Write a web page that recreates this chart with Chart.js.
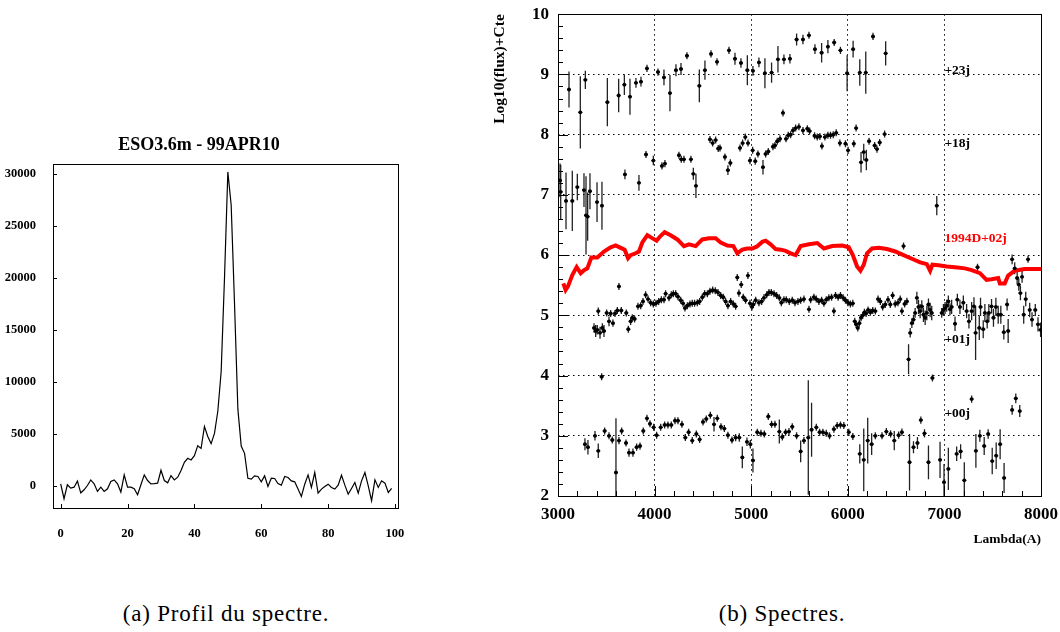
<!DOCTYPE html>
<html>
<head>
<meta charset="utf-8">
<script src="https://cdn.jsdelivr.net/npm/chart.js@4.4.0/dist/chart.umd.min.js"></script>
<style>
body{margin:0;background:#fff;width:1060px;height:632px;position:relative;overflow:hidden}
#wrapA{position:absolute;left:0;top:120px;width:420px;height:430px}
#wrapB{position:absolute;left:480px;top:-5px;width:586px;height:575px}
.cap{position:absolute;top:601px;font-family:"Liberation Serif","Times New Roman",serif;font-size:23px;letter-spacing:0.8px;line-height:26px;transform:translateX(-50%);white-space:nowrap;color:#000}
</style>
</head>
<body>
<div id="wrapA"><canvas id="profil" width="420" height="430"></canvas></div>
<div id="wrapB"><canvas id="spectres" width="586" height="575"></canvas></div>
<div class="cap" style="left:226px">(a) Profil du spectre.</div>
<div class="cap" style="left:782px">(b) Spectres.</div>
<script>
/* DATA - profile (a) */
const profTitle = "ESO3.6m - 99APR10";
const profCounts = [220,-1210,130,-190,-100,480,-640,-350,60,600,
  220,-510,-100,-510,-250,450,600,220,-570,1080,
  -100,-100,-250,-830,130,1080,540,220,250,290,
  1530,540,320,1020,600,860,1500,2290,2680,2520,
  2930,3890,3630,5730,4780,4080,5070,7200,11000,20000,
  30200,27000,17500,7400,3850,3150,750,670,990,925,
  415,990,-30,765,735,255,96,925,830,510,
  415,-285,-990,190,1080,-125,1310,-670,-285,-30,
  190,-125,-285,95,1050,95,-765,-220,350,-670,
  510,1310,30,-1400,605,-125,510,290,-605,-220];
const profPixel = profCounts.map((v,i)=>i);
const profXTicks = [0,20,40,60,80,100];
const profYTicks = [0,5000,10000,15000,20000,25000,30000];

/* DATA - spectra (b) */
const wl23 = [3114,3231,3283,3511,3628,3687,3745,3807,3859,3921,4035,4097,4159,4221,4273,4335,4463,4521,4584,4646,4770,4832,4894,4960,5018,5080,5142,5211,5277,5339,5401,5470,5536,5598,5660,5729,5794,5859,5924,5993,6055,6124,6186,6261,6392];
const f23 = [8.75,8.37,8.91,8.54,8.65,8.83,8.63,8.86,8.88,9.10,9.04,8.95,8.69,9.07,9.09,9.31,8.81,9.07,9.34,9.21,9.40,9.26,9.19,9.07,9.06,9.20,9.02,9.03,9.25,9.25,9.26,9.58,9.58,9.65,9.42,9.36,9.46,9.53,9.40,9.02,9.42,9.03,9.03,9.63,9.35];
const e23 = [0.30,0.60,0.15,0.40,0.28,0.17,0.30,0.08,0.08,0.06,0.06,0.13,0.30,0.10,0.10,0.06,0.27,0.16,0.06,0.06,0.06,0.10,0.08,0.25,0.08,0.08,0.25,0.17,0.22,0.08,0.08,0.10,0.08,0.05,0.08,0.16,0.11,0.06,0.06,0.30,0.14,0.22,0.35,0.06,0.20];

const wl18 = [3021,3028,3083,3148,3200,3269,3290,3307,3331,3404,3455,3693,3838,3911,3987,4076,4107,4252,4276,4304,4376,4401,4428,4573,4601,4632,4659,4677,4728,4759,4784,4884,4911,4939,4967,4987,5015,5042,5070,5122,5149,5177,5225,5246,5270,5298,5329,5360,5384,5408,5432,5460,5494,5536,5581,5605,5656,5684,5711,5732,5763,5794,5821,5849,5880,5918,5976,6003,6062,6086,6137,6165,6192,6220,6278,6302,6330,6381,6921];
const f18 = [7.24,7.05,6.90,6.90,7.13,7.08,6.66,6.64,7.06,6.88,6.82,7.34,7.20,7.67,7.57,7.48,7.52,7.66,7.59,7.59,7.59,7.35,7.15,7.92,7.86,7.91,7.77,7.78,7.63,7.41,7.53,7.78,7.86,7.96,7.86,7.57,7.74,7.56,7.68,7.46,7.68,7.72,7.80,7.82,7.89,7.93,8.36,7.93,7.99,8.00,8.07,8.11,8.13,8.07,8.10,8.06,7.98,7.96,7.97,7.81,7.96,7.99,7.99,8.00,8.03,7.86,7.85,7.74,7.85,8.11,7.54,7.71,7.58,7.89,7.82,7.76,7.87,8.01,6.82];
const e18 = [0.28,0.45,0.47,0.50,0.22,0.28,0.65,0.40,0.30,0.33,0.40,0.08,0.13,0.05,0.08,0.06,0.06,0.05,0.05,0.05,0.05,0.10,0.20,0.04,0.04,0.04,0.05,0.05,0.05,0.08,0.06,0.05,0.05,0.05,0.05,0.06,0.05,0.06,0.05,0.12,0.05,0.05,0.05,0.05,0.05,0.05,0.03,0.04,0.04,0.04,0.04,0.04,0.04,0.04,0.04,0.04,0.04,0.04,0.04,0.05,0.04,0.04,0.04,0.04,0.04,0.05,0.05,0.06,0.05,0.03,0.17,0.14,0.17,0.05,0.06,0.06,0.05,0.05,0.16];

const wlRef = [3055,3079,3103,3148,3193,3235,3269,3304,3345,3407,3476,3545,3597,3649,3690,3725,3752,3804,3838,3873,3925,3966,4021,4063,4104,4166,4235,4304,4356,4425,4494,4563,4632,4684,4753,4815,4856,4908,4960,5011,5056,5115,5149,5201,5253,5305,5356,5408,5460,5512,5598,5684,5753,5839,5942,6010,6052,6096,6131,6165,6199,6251,6320,6405,6491,6577,6663,6749,6818,6852,6876,6938,7024,7110,7213,7282,7368,7436,7488,7557,7574,7625,7660,7728,7831,8000];
const fRef = [5.53,5.42,5.48,5.67,5.80,5.70,5.75,5.78,5.96,5.96,6.06,6.13,6.16,6.12,6.09,5.95,6.00,6.03,6.06,6.21,6.33,6.29,6.24,6.32,6.38,6.33,6.26,6.15,6.18,6.15,6.26,6.28,6.28,6.21,6.16,6.15,6.03,6.09,6.11,6.11,6.14,6.22,6.24,6.18,6.10,6.09,6.07,6.03,6.00,6.15,6.18,6.20,6.11,6.15,6.16,6.13,6.00,5.81,5.74,5.84,6.03,6.11,6.12,6.10,6.06,6.00,5.94,5.88,5.85,5.74,5.84,5.83,5.81,5.80,5.78,5.75,5.70,5.59,5.60,5.62,5.53,5.53,5.66,5.74,5.77,5.77];

const wl01 = [3373,3390,3407,3417,3435,3452,3459,3476,3504,3528,3545,3569,3590,3614,3631,3655,3707,3728,3752,3769,3793,3828,3856,3880,3907,3932,3959,3987,4014,4042,4070,4097,4114,4149,4173,4194,4218,4242,4270,4294,4314,4339,4366,4390,4414,4442,4466,4494,4518,4546,4573,4601,4628,4656,4684,4711,4735,4759,4787,4815,4839,4856,4873,4897,4918,4942,4966,4987,5008,5022,5046,5080,5108,5132,5160,5184,5208,5236,5263,5291,5312,5339,5363,5394,5425,5453,5484,5512,5546,5598,5615,5649,5674,5701,5729,5753,5777,5804,5832,5856,5873,5900,5924,5952,5976,6003,6027,6052,6072,6086,6103,6120,6137,6155,6172,6189,6210,6234,6258,6285,6313,6337,6361,6388,6416,6440,6464,6491,6519,6543,6560,6577,6588,6612,6629,6646,6663,6680,6697,6715,6732,6749,6766,6783,6801,6818,6835,6852,6869,6876,6972,6990,7007,7024,7041,7058,7075,7110,7134,7161,7196,7230,7254,7282,7306,7323,7343,7361,7374,7402,7419,7443,7460,7488,7508,7533,7557,7584,7615,7649,7660,7701,7728,7753,7770,7787,7804,7821,7842,7866,7883,7907,7941,7969,7996];
const f01 = [4.79,4.74,4.76,5.07,4.71,3.98,4.79,4.74,5.04,4.90,5.03,4.87,5.03,5.08,5.48,5.08,5.04,4.77,4.90,4.96,4.94,5.15,5.16,5.23,5.34,5.27,5.21,5.19,5.20,5.23,5.26,5.26,5.36,5.29,5.34,5.36,5.36,5.31,5.25,5.20,5.12,5.16,5.19,5.20,5.20,5.21,5.23,5.30,5.36,5.36,5.40,5.42,5.41,5.38,5.33,5.30,5.23,5.16,5.23,5.19,5.15,5.63,5.37,5.51,5.30,5.25,5.66,5.20,5.14,5.18,5.25,5.21,5.23,5.29,5.34,5.38,5.38,5.36,5.33,5.29,5.21,5.26,5.26,5.23,5.25,5.21,5.23,5.25,5.27,5.10,5.26,5.30,5.27,5.23,5.25,5.20,5.26,5.29,5.30,5.07,5.33,5.30,5.33,5.29,5.25,5.21,5.19,5.20,4.90,4.85,4.79,4.87,4.96,5.00,5.05,5.03,5.09,5.05,5.08,5.07,5.27,5.23,5.14,5.18,5.26,5.18,5.33,5.19,5.21,5.27,5.07,6.15,5.19,5.23,4.27,4.71,4.87,4.93,5.04,5.29,5.14,5.07,5.15,5.01,4.96,5.04,5.18,5.09,5.04,3.96,5.04,5.09,5.12,5.16,5.23,5.10,5.14,4.86,5.26,5.14,5.21,5.07,4.90,5.07,5.15,4.71,5.80,4.79,5.14,4.77,5.04,4.90,5.04,5.15,4.96,5.14,5.01,5.01,4.72,5.18,4.74,5.93,5.78,5.62,5.51,5.37,5.64,5.01,5.27,5.93,5.09,4.93,5.09,4.85,4.76];
const e01 = [0.08,0.10,0.08,0.06,0.10,0.06,0.08,0.10,0.05,0.08,0.05,0.06,0.05,0.04,0.03,0.04,0.04,0.05,0.06,0.05,0.05,0.04,0.04,0.04,0.04,0.04,0.04,0.04,0.04,0.04,0.04,0.04,0.04,0.04,0.04,0.04,0.04,0.04,0.04,0.04,0.04,0.04,0.04,0.04,0.04,0.04,0.04,0.04,0.04,0.04,0.04,0.04,0.04,0.04,0.04,0.04,0.04,0.04,0.04,0.04,0.04,0.04,0.06,0.05,0.04,0.04,0.04,0.04,0.04,0.04,0.04,0.04,0.04,0.04,0.04,0.04,0.04,0.04,0.04,0.04,0.04,0.04,0.04,0.04,0.04,0.04,0.04,0.04,0.04,0.04,0.04,0.04,0.04,0.04,0.04,0.04,0.04,0.04,0.04,0.04,0.04,0.04,0.04,0.04,0.04,0.04,0.04,0.04,0.05,0.06,0.06,0.06,0.06,0.05,0.05,0.05,0.05,0.05,0.05,0.05,0.06,0.06,0.06,0.06,0.06,0.06,0.06,0.06,0.06,0.06,0.06,0.03,0.06,0.06,0.25,0.08,0.08,0.08,0.08,0.10,0.12,0.12,0.10,0.12,0.12,0.12,0.10,0.12,0.12,0.05,0.08,0.10,0.10,0.10,0.10,0.10,0.12,0.12,0.10,0.12,0.12,0.12,0.12,0.15,0.15,0.45,0.04,0.20,0.15,0.15,0.15,0.12,0.15,0.12,0.15,0.15,0.15,0.15,0.12,0.10,0.20,0.08,0.10,0.10,0.10,0.12,0.10,0.15,0.12,0.03,0.12,0.12,0.10,0.12,0.12];

const wl00 = [3279,3310,3383,3417,3483,3528,3562,3600,3631,3659,3704,3735,3776,3814,3849,3883,3921,3952,3990,4021,4063,4104,4138,4173,4211,4242,4283,4318,4352,4390,4432,4466,4501,4535,4577,4615,4649,4687,4722,4759,4801,4839,4877,4908,4956,4991,5018,5063,5101,5136,5177,5211,5246,5291,5322,5356,5391,5425,5470,5512,5546,5591,5625,5674,5708,5742,5777,5811,5856,5890,5924,5959,6010,6052,6124,6165,6206,6247,6285,6354,6399,6443,6481,6526,6560,6639,6680,6721,6756,6794,6835,6955,6996,7041,7127,7168,7206,7282,7326,7367,7412,7453,7495,7536,7577,7618,7701,7739,7780];
const f00 = [2.86,2.81,3.00,2.75,3.08,3.00,2.93,2.39,2.92,3.08,2.88,2.72,2.72,2.81,2.83,3.08,3.29,3.20,3.14,3.01,3.14,3.18,3.18,3.18,3.25,3.25,3.19,2.97,3.06,2.92,3.03,2.94,3.23,3.28,3.34,3.19,3.29,3.15,3.12,3.01,2.93,2.97,2.97,2.64,2.90,2.86,2.59,3.06,3.04,3.03,3.32,3.19,3.19,3.07,2.98,3.06,3.07,3.15,3.00,2.74,2.92,2.97,3.10,3.14,3.06,3.06,3.04,3.00,3.11,3.17,3.18,3.17,3.06,2.99,2.70,2.60,2.92,2.86,3.00,3.00,3.07,3.03,2.92,3.01,3.06,2.56,2.81,2.88,3.26,3.04,2.56,2.60,2.23,2.45,2.70,2.74,2.26,3.61,2.75,3.00,2.83,3.03,2.58,2.67,2.86,2.30,3.43,3.62,3.41];
const e00 = [0.10,0.12,0.08,0.12,0.05,0.05,0.05,0.90,0.06,0.04,0.06,0.07,0.07,0.06,0.06,0.04,0.04,0.04,0.04,0.04,0.04,0.04,0.04,0.04,0.04,0.04,0.04,0.05,0.05,0.05,0.05,0.05,0.04,0.04,0.04,0.12,0.05,0.05,0.04,0.05,0.06,0.06,0.07,0.18,0.07,0.07,0.20,0.05,0.05,0.05,0.04,0.04,0.04,0.20,0.06,0.05,0.05,0.05,0.05,0.18,0.05,0.95,0.45,0.04,0.04,0.04,0.04,0.04,0.04,0.04,0.04,0.04,0.05,0.05,0.16,0.52,0.38,0.18,0.05,0.05,0.05,0.06,0.16,0.06,0.06,0.47,0.10,0.10,0.06,0.07,0.28,0.30,0.30,0.35,0.12,0.12,0.30,0.06,0.28,0.10,0.15,0.08,0.22,0.22,0.25,0.25,0.08,0.08,0.10];

const tagText = ["+23j","+18j","1994D+02j","+01j","+00j"];
const tagWl = [7000,7000,7000,7000,7000];
const tagVal = [9.06,7.85,6.28,4.60,3.37];
const tagColor = ["#000","#000","#ff0000","#000","#000"];

const F = '"Liberation Serif", "Times New Roman", serif';

/* helpers */
function pts(xs, ys){ return xs.map((x,i)=>({x:x, y:ys[i]})); }
function fixTicks(vals){ return function(s){ s.ticks = vals.map(v=>({value:v})); }; }

/* frame + inward ticks, ROOT style */
const frameTicks = {
  id:'frameTicks',
  afterDraw(chart, args, o){
    const {ctx, chartArea:a, scales:{x,y}} = chart;
    ctx.save();
    ctx.strokeStyle='#000'; ctx.lineWidth=1;
    ctx.strokeRect(Math.round(a.left)+0.5, Math.round(a.top)+0.5, Math.round(a.right-a.left), Math.round(a.bottom-a.top));
    ctx.beginPath();
    for(let v=Math.ceil(x.min/o.xMinor)*o.xMinor; v<=x.max+1e-9; v+=o.xMinor){
      const px=Math.round(x.getPixelForValue(v))+0.5;
      const big=Math.abs(v/o.xMajor-Math.round(v/o.xMajor))<1e-6;
      ctx.moveTo(px,a.bottom); ctx.lineTo(px,a.bottom-(big?o.major:o.minor));
    }
    for(let v=Math.ceil(y.min/o.yMinor)*o.yMinor; v<=y.max+1e-9; v+=o.yMinor){
      const py=Math.round(y.getPixelForValue(v))+0.5;
      const big=Math.abs(v/o.yMajor-Math.round(v/o.yMajor))<1e-6;
      ctx.moveTo(a.left,py); ctx.lineTo(a.left+(big?o.major:o.minor),py);
    }
    ctx.stroke();
    ctx.restore();
  }
};

/* vertical error bars under the markers */
const errBars = {
  id:'errBars',
  beforeDatasetsDraw(chart){
    const {ctx, chartArea:a, scales:{x,y}} = chart;
    ctx.save();
    ctx.beginPath(); ctx.rect(a.left,a.top,a.right-a.left,a.bottom-a.top); ctx.clip();
    ctx.strokeStyle='#222'; ctx.lineWidth=1.3;
    ctx.beginPath();
    chart.data.datasets.forEach(ds=>{
      if(!ds.errors) return;
      ds.data.forEach((p,i)=>{
        const px=x.getPixelForValue(p.x), py=y.getPixelForValue(p.y);
        const top=Math.min(y.getPixelForValue(p.y+ds.errors[i]), py-3.5);
        const bot=Math.max(y.getPixelForValue(p.y-ds.errors[i]), py+3.5);
        ctx.moveTo(px,top); ctx.lineTo(px,bot);
        ctx.moveTo(px-2,py); ctx.lineTo(px+2,py);
      });
    });
    ctx.stroke();
    ctx.restore();
  }
};

/* epoch labels */
const tags = {
  id:'tags',
  afterDatasetsDraw(chart){
    const {ctx, scales:{x,y}} = chart;
    ctx.save();
    ctx.font='bold 13.5px '+F; ctx.textAlign='left'; ctx.textBaseline='middle';
    tagText.forEach((t,i)=>{
      ctx.fillStyle=tagColor[i];
      ctx.fillText(t, x.getPixelForValue(tagWl[i]), y.getPixelForValue(tagVal[i]));
    });
    ctx.restore();
  }
};

/* (a) profile */
new Chart(document.getElementById('profil'), {
  type:'line',
  data:{datasets:[{data:pts(profPixel, profCounts), borderColor:'#000', borderWidth:1.2, pointRadius:0, tension:0}]},
  options:{
    responsive:false, animation:false,
    layout:{padding:{left:0,right:22,top:0,bottom:0}},
    plugins:{
      legend:{display:false}, tooltip:{enabled:false},
      title:{display:true, text:profTitle, color:'#000', font:{family:F, weight:'bold', size:18}, padding:{top:15,bottom:7}},
      frameTicks:{xMajor:20, xMinor:20, yMajor:5000, yMinor:5000, major:4, minor:4}
    },
    scales:{
      x:{type:'linear', min:-2.3, max:100.9, afterFit(s){s.height=42;}, afterBuildTicks:fixTicks(profXTicks),
         ticks:{maxRotation:0, autoSkip:false, color:'#000', padding:10, callback:v=>String(v), font:{family:F, weight:'bold', size:12.5}},
         grid:{display:false}, border:{display:false}},
      y:{type:'linear', min:-2100, max:31000, afterFit(s){s.width=53;}, afterBuildTicks:fixTicks(profYTicks),
         ticks:{autoSkip:false, color:'#000', padding:9, callback:v=>String(v), font:{family:F, weight:'bold', size:12.5}},
         grid:{display:false}, border:{display:false}}
    }
  },
  plugins:[frameTicks]
});

/* (b) spectra */
const dot = {type:'scatter', showLine:false, pointRadius:1.9, pointBackgroundColor:'#000', pointBorderWidth:0, pointHoverRadius:0};
new Chart(document.getElementById('spectres'), {
  type:'scatter',
  data:{datasets:[
    {...dot, data:pts(wl23,f23), errors:e23},
    {...dot, data:pts(wl18,f18), errors:e18},
    {...dot, data:pts(wl01,f01), errors:e01},
    {...dot, data:pts(wl00,f00), errors:e00},
    {type:'line', data:pts(wlRef,fRef), borderColor:'#ff0000', borderWidth:4, pointRadius:0, tension:0}
  ]},
  options:{
    responsive:false, animation:false,
    layout:{padding:{left:0,right:19,top:8,bottom:0}},
    plugins:{
      legend:{display:false}, tooltip:{enabled:false},
      frameTicks:{xMajor:1000, xMinor:200, yMajor:1, yMinor:0.2, major:10, minor:5}
    },
    scales:{
      x:{type:'linear', min:3000, max:8000, afterFit(s){s.height=74;},
         ticks:{stepSize:1000, maxRotation:0, color:'#000', padding:8, callback:v=>String(v), font:{family:F, weight:'bold', size:17}},
         grid:{color:'#000', lineWidth:1, drawTicks:false},
         border:{display:false, dash:[1.5,3.5]},
         title:{display:true, text:'Lambda(A)', align:'end', color:'#000', font:{family:F, weight:'bold', size:13.5}, padding:{top:0,bottom:22}}},
      y:{type:'linear', min:2, max:10, afterFit(s){s.width=78;},
         ticks:{stepSize:1, color:'#000', padding:9, callback:v=>String(v), font:{family:F, weight:'bold', size:17}},
         grid:{color:'#000', lineWidth:1, drawTicks:false},
         border:{display:false, dash:[1.5,3.5]},
         title:{display:true, text:'Log10(flux)+Cte', align:'end', color:'#000', font:{family:F, weight:'bold', size:15.5}, padding:{top:11,bottom:0}}}
    }
  },
  plugins:[errBars, frameTicks, tags]
});
</script>
</body>
</html>
